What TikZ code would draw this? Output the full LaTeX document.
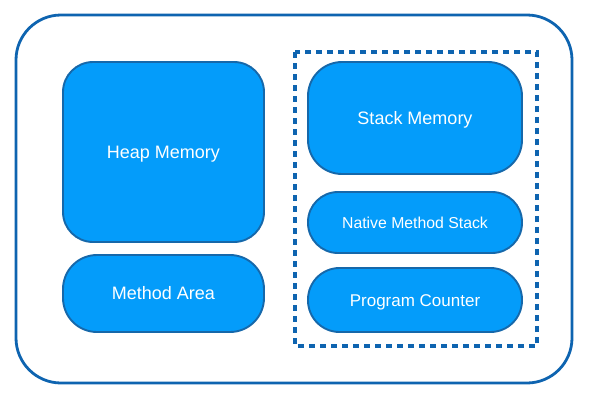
\documentclass[tikz,border=0pt]{standalone}
\usepackage{fontspec}
\setmainfont{Liberation Sans}
\definecolor{boxfill}{RGB}{4,156,250}
\definecolor{boxline}{RGB}{22,104,170}
\definecolor{outline}{RGB}{14,100,176}
\newcommand{\capcentre}[1]{\raisebox{-0.358em}[0pt][0pt]{#1}}
\begin{document}
\begin{tikzpicture}[x=1pt,y=-1pt,
  membox/.style={draw=boxline, fill=boxfill, line width=1.9pt, text=white,
    inner sep=0pt, font=\fontsize{18}{20}\selectfont},
]
\useasboundingbox (0,0) rectangle (592,410);
\draw[outline, line width=2.8pt, rounded corners=45pt] (16,15) rectangle (572,383);
\draw[outline, line width=3.2pt, dash pattern=on 6pt off 5pt] (295,52) rectangle (537,346);
\node[membox, rounded corners=30pt, minimum width=201pt, minimum height=180pt] (heap) at (163.5,152) {\capcentre{Heap Memory}};
\node[membox, rounded corners=34pt, minimum width=201pt, minimum height=77pt] (method) at (163.5,293.5) {\capcentre{Method Area}};
\node[membox, rounded corners=34pt, minimum width=214pt, minimum height=112pt] (stack) at (415,118) {\capcentre{Stack Memory}};
\node[membox, rounded corners=30pt, minimum width=214pt, minimum height=61pt, font=\fontsize{15.8}{18}\selectfont] (native) at (415,222.5) {\capcentre{Native Method Stack}};
\node[membox, rounded corners=31.5pt, minimum width=214pt, minimum height=64pt, font=\fontsize{17}{19}\selectfont] (pc) at (415,300) {\capcentre{Program Counter}};
\end{tikzpicture}
\end{document}
